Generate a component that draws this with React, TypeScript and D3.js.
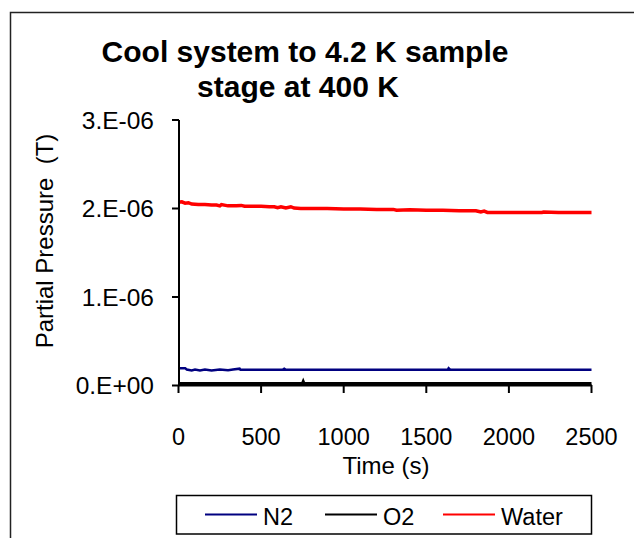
import React from "react";
import * as d3 from "d3";

const waterT = [0, 20, 40, 60, 80, 120, 160, 200, 230, 250, 260, 300, 350, 380, 400, 450, 500, 550, 580, 600, 620, 650, 680, 700, 740, 800, 900, 1000, 1100, 1200, 1300, 1320, 1400, 1500, 1600, 1700, 1800, 1830, 1850, 1870, 2000, 2200, 2210, 2300, 2400, 2500];
const waterV = [2.07, 2.075, 2.06, 2.065, 2.05, 2.045, 2.045, 2.04, 2.04, 2.03, 2.045, 2.03, 2.03, 2.035, 2.025, 2.025, 2.025, 2.02, 2.02, 2.01, 2.02, 2.005, 2.02, 2.005, 2.0, 2.0, 2.0, 1.995, 1.995, 1.99, 1.99, 1.98, 1.985, 1.98, 1.98, 1.975, 1.975, 1.96, 1.97, 1.955, 1.955, 1.955, 1.96, 1.955, 1.955, 1.955];

const n2T = [0, 40, 50, 80, 100, 130, 160, 200, 250, 300, 330, 370, 375, 630, 640, 650, 1630, 1635, 1645, 2500];
const n2V = [0.196, 0.196, 0.18, 0.17, 0.18, 0.17, 0.18, 0.17, 0.18, 0.172, 0.18, 0.19, 0.178, 0.178, 0.19, 0.178, 0.178, 0.195, 0.178, 0.178];

const o2T = [0, 750, 755, 760, 2500];
const o2V = [0.022, 0.022, 0.045, 0.022, 0.022];

const xTicks = [0, 500, 1000, 1500, 2000, 2500];
const yTicks = [0, 1, 2, 3];
const yTickLabels = ["0.E+00", "1.E-06", "2.E-06", "3.E-06"];

const seriesNames = ["N2", "O2", "Water"];
const seriesColors = ["#000080", "#000000", "#FF0000"];

export default function App() {
  const x = d3.scaleLinear().domain([0, 2500]).range([178.5, 591.5]);
  const y = d3.scaleLinear().domain([0, 3]).range([385.5, 120]);
  const line = d3
    .line<[number, number]>()
    .x((d) => x(d[0]))
    .y((d) => y(d[1]));
  const zip = (t: number[], v: number[]) => t.map((ti, i) => [ti, v[i]] as [number, number]);
  const series = [
    { name: "N2", pts: zip(n2T, n2V), w: 2.5 },
    { name: "O2", pts: zip(o2T, o2V), w: 3 },
    { name: "Water", pts: zip(waterT, waterV), w: 3.5 },
  ];
  const legendX = [205, 325, 443];
  const font = "Arial, 'Liberation Sans', sans-serif";
  return (
    <svg
      width={634}
      height={538}
      style={{ position: "absolute", left: 0, top: 0, background: "#fff" }}
      fontFamily={font}
    >
      <rect x={0} y={0} width={634} height={538} fill="#fff" />
      <rect x={10.5} y={12.5} width={700} height={600} fill="none" stroke="#222" strokeWidth={1.5} />
      <text x={305} y={62} textAnchor="middle" fontSize={30} fontWeight="bold" fill="#000">
        Cool system to 4.2 K sample
      </text>
      <text x={298} y={97} textAnchor="middle" fontSize={30} fontWeight="bold" fill="#000">
        stage at 400 K
      </text>
      {series.map((s, i) => (
        <path key={s.name} d={line(s.pts) || ""} fill="none" stroke={seriesColors[i]} strokeWidth={s.w} />
      ))}
      <line x1={179} y1={120} x2={179} y2={386} stroke="#000" strokeWidth={2} />
      <line x1={178} y1={385.5} x2={592} y2={385.5} stroke="#000" strokeWidth={2} />
      {yTicks.map((t, i) => (
        <g key={t}>
          <line x1={172} x2={179} y1={y(t)} y2={y(t)} stroke="#000" strokeWidth={2} />
          <text x={154} y={y(t) + 8.5} textAnchor="end" fontSize={24.5} fill="#000">
            {yTickLabels[i]}
          </text>
        </g>
      ))}
      {xTicks.map((t) => (
        <g key={t}>
          <line x1={x(t)} x2={x(t)} y1={385} y2={393} stroke="#000" strokeWidth={2} />
          <text x={x(t)} y={445} textAnchor="middle" fontSize={23.5} fill="#000">
            {t}
          </text>
        </g>
      ))}
      <text x={386} y={474} textAnchor="middle" fontSize={24} fill="#000">
        Time (s)
      </text>
      <text
        transform={`translate(53,241) rotate(-90)`}
        textAnchor="middle"
        fontSize={24}
        fill="#000"
        style={{ whiteSpace: "pre" }}
      >
        {"Partial Pressure  (T)"}
      </text>
      <rect x={176.5} y={495.5} width={415} height={38.5} fill="#fff" stroke="#000" strokeWidth={1.5} />
      {seriesNames.map((n, i) => (
        <g key={n}>
          <line x1={legendX[i]} x2={legendX[i] + 52} y1={514.5} y2={514.5} stroke={seriesColors[i]} strokeWidth={2} />
          <text x={legendX[i] + 58} y={525} fontSize={23.5} fill="#000">
            {n}
          </text>
        </g>
      ))}
    </svg>
  );
}
